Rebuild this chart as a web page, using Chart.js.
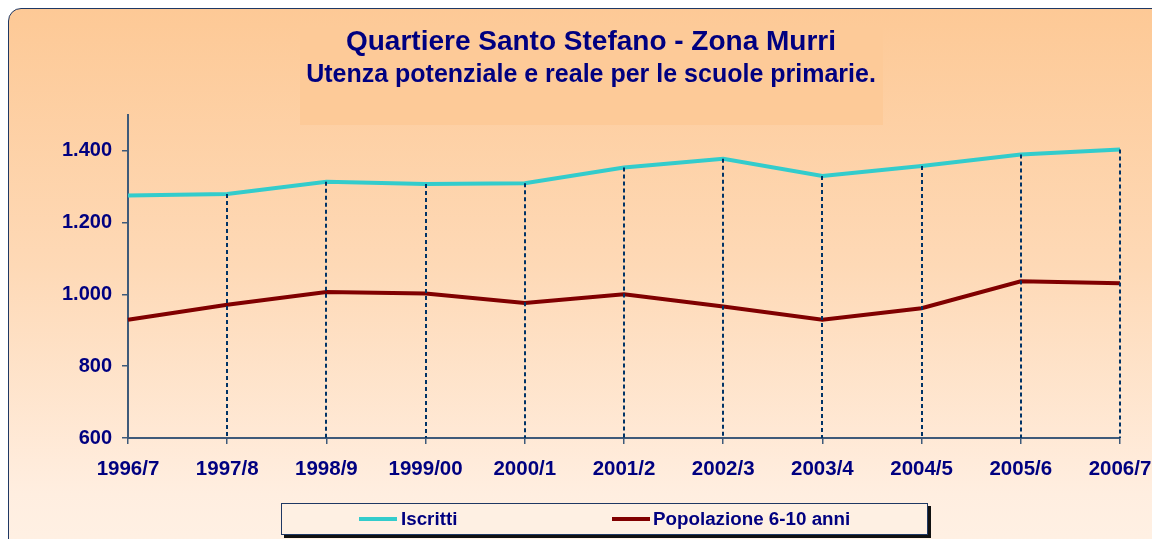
<!DOCTYPE html>
<html>
<head>
<meta charset="utf-8">
<script src="https://cdn.jsdelivr.net/npm/chart.js@4"></script>
<style>
  body { margin: 0; background: #fff; width: 1152px; height: 539px; overflow: hidden; position: relative; font-family: "Liberation Sans", Arial, sans-serif; }
  #frame { position: absolute; left: 8px; top: 8px; width: 1170px; height: 570px; border: 1.5px solid #1f3864; border-radius: 13px;
           background: linear-gradient(#fdc996 0%, #fed9b6 45%, #ffeee0 85%, #fff2e6 100%); }
  #titleBox { position: absolute; left: 300px; top: 28px; width: 583px; height: 97px; background: #fdca98; }
  #c { position: absolute; left: 0; top: 0; }
  #legend { position: absolute; left: 281px; top: 503px; width: 645px; height: 30px; background: #fef0e3;
            border: 1px solid #1f3864; box-shadow: 3px 3px 0 #111; }
  .item { position: absolute; top: 0; height: 30px; line-height: 30px; font-weight: bold; font-size: 18.8px; color: #000080; }
  .swatch { position: absolute; top: 13px; width: 38px; height: 4px; }
</style>
</head>
<body>
<div id="frame"></div>
<div id="titleBox"></div>
<canvas id="c" width="1152" height="539"></canvas>
<div id="legend">
  <div class="swatch" style="left:77px;background:#33cccc"></div>
  <div class="item" style="left:119px">Iscritti</div>
  <div class="swatch" style="left:330px;background:#800000"></div>
  <div class="item" style="left:371px">Popolazione 6-10 anni</div>
</div>
<script>
const anni = ['1996/7', '1997/8', '1998/9', '1999/00', '2000/1', '2001/2', '2002/3', '2003/4', '2004/5', '2005/6', '2006/7'];
const iscritti = [1275, 1279, 1313, 1307, 1309, 1353, 1377, 1329, 1357, 1389, 1403];
const popolazione = [929, 971, 1006, 1002, 976, 1000, 966, 929, 961, 1036, 1031];
const yTicks = [600, 800, 1000, 1200, 1400];

const navy = '#000080';
const axisColor = '#3e5a7a';
const fontFam = "'Liberation Sans', Arial, sans-serif";

function fmt(v) {
    return String(v).replace(/\B(?=(\d{3})+(?!\d))/g, '.');
}

// linee verticali tratteggiate dal punto "Iscritti" fino all'asse
const dropLines = {
    id: 'dropLines',
    afterDatasetsDraw(chart) {
        const meta = chart.getDatasetMeta(0);
        const bottom = chart.scales.y.bottom;
        const ctx = chart.ctx;
        ctx.save();
        ctx.strokeStyle = '#003366';
        ctx.lineWidth = 2;
        ctx.setLineDash([4, 3]);
        for (let i = 1; i < meta.data.length; i++) {
            const p = meta.data[i];
            ctx.beginPath();
            ctx.moveTo(Math.round(p.x), p.y);
            ctx.lineTo(Math.round(p.x), bottom);
            ctx.stroke();
        }
        ctx.restore();
    }
};

const ctx = document.getElementById('c').getContext('2d');
const chart = new Chart(ctx, {
    type: 'line',
    data: {
        labels: anni,
        datasets: [{
            label: 'Iscritti',
            data: iscritti,
            borderColor: '#33cccc',
            borderWidth: 4,
            pointRadius: 0,
            tension: 0
        }, {
            label: 'Popolazione 6-10 anni',
            data: popolazione,
            borderColor: '#800000',
            borderWidth: 4,
            pointRadius: 0,
            tension: 0
        }]
    },
    options: {
        responsive: false,
        animation: false,
        layout: { padding: { left: 62, right: 32, top: 0, bottom: 0 } },
        plugins: {
            legend: { display: false },
            tooltip: { enabled: false },
            title: {
                display: true,
                text: 'Quartiere Santo Stefano - Zona Murri',
                color: navy,
                font: { family: fontFam, size: 28, weight: 'bold', lineHeight: 1.2 },
                padding: { top: 25, bottom: 0 }
            },
            subtitle: {
                display: true,
                text: 'Utenza potenziale e reale per le scuole primarie.',
                color: navy,
                font: { family: fontFam, size: 25, weight: 'bold', lineHeight: 1.2 },
                padding: { top: 2, bottom: 24 }
            }
        },
        scales: {
            x: {
                offset: false,
                grid: { display: true, drawOnChartArea: false, drawTicks: true, tickLength: 6, color: axisColor, lineWidth: 1.5 },
                border: { display: true, color: axisColor, width: 2 },
                ticks: { color: navy, font: { family: fontFam, size: 20.5, weight: 'bold' }, padding: 13, maxRotation: 0, autoSkip: false },
                afterFit(scale) {
                    scale.height = 101;
                    scale.paddingLeft = 0;
                    scale.paddingRight = 0;
                }
            },
            y: {
                min: 600,
                max: 1500,
                grid: { display: true, drawOnChartArea: false, drawTicks: true, tickLength: 6, color: axisColor, lineWidth: 1.5 },
                border: { display: true, color: axisColor, width: 2 },
                ticks: { color: navy, font: { family: fontFam, size: 20, weight: 'bold' }, padding: 10, callback: v => fmt(v) },
                afterBuildTicks(scale) { scale.ticks = yTicks.map(v => ({ value: v })); },
                afterFit(scale) {
                    scale.width = 66;
                    scale.paddingTop = 0;
                    scale.paddingBottom = 0;
                }
            }
        }
    },
    plugins: [dropLines]
});
</script>
</body>
</html>
